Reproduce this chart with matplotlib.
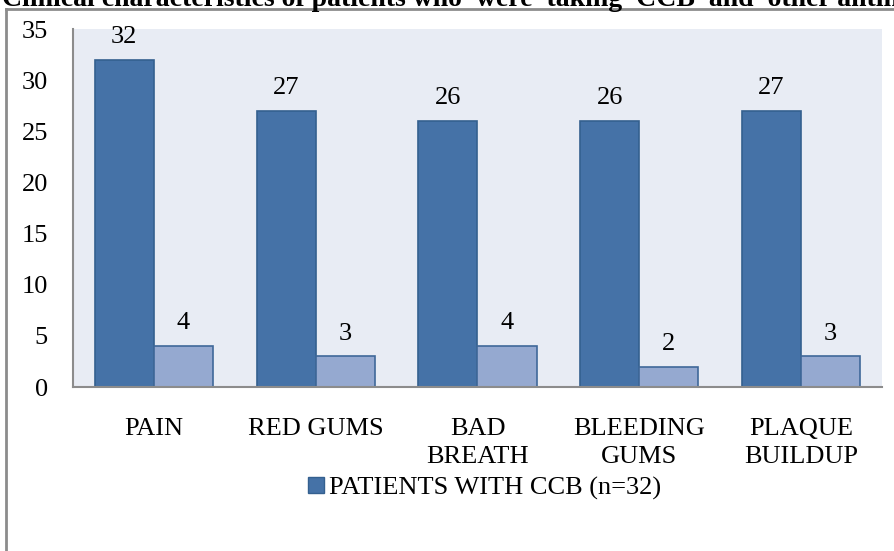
import matplotlib.pyplot as plt
import matplotlib.lines as mlines
import numpy as np

# Symptom categories and patient counts
categories = ["PAIN", "RED GUMS", "BAD\nBREATH", "BLEEDING\nGUMS", "PLAQUE\nBUILDUP"]
with_ccb = [32, 27, 26, 26, 27]
other_drugs = [4, 3, 4, 2, 3]
yticks = [0, 5, 10, 15, 20, 25, 30, 35]

plt.rcParams['font.family'] = ['Liberation Serif', 'DejaVu Serif']

W, H = 895, 551
fig = plt.figure(figsize=(W / 100, H / 100), dpi=100)

# axes box in pixel terms
left, right, top, bottom = 73, 882, 29, 387
ax = fig.add_axes([left / W, 1 - bottom / H, (right - left) / W, (bottom - top) / H])
ax.set_facecolor("#E8ECF4")

x = np.arange(len(categories))
bw = 0.365
dark = ax.bar(x - bw / 2, with_ccb, bw, color="#4572A7", edgecolor="#34608F",
              linewidth=1.2, label="PATIENTS WITH CCB (n=32)")
light = ax.bar(x + bw / 2, other_drugs, bw, color="#95A9D0", edgecolor="#3F6899",
               linewidth=1.2)

for bars, vals in [(dark, with_ccb), (light, other_drugs)]:
    for b, v in zip(bars, vals):
        ax.annotate(str(v), (b.get_x() + b.get_width() / 2, v), xytext=(0, 8.5),
                    textcoords="offset points", ha="center", va="bottom", fontsize=19)

ax.set_xlim(-0.5, len(categories) - 0.5)
ax.set_ylim(0, 35)
ax.set_yticks(yticks)
ax.set_xticks(x)
ax.set_xticklabels(categories, fontsize=19, linespacing=1.38)
ax.tick_params(axis='y', length=0, labelsize=19, pad=18)
ax.tick_params(axis='x', length=0, pad=22)
for s in ["top", "right"]:
    ax.spines[s].set_visible(False)
for s in ["left", "bottom"]:
    ax.spines[s].set_color("#8C8C8C")
    ax.spines[s].set_linewidth(1.5)

handle = mlines.Line2D([], [], marker="s", linestyle="none", markersize=12,
                       markerfacecolor="#4572A7", markeredgecolor="#34608F")
fig.legend([handle], ["PATIENTS WITH CCB (n=32)"], loc="center",
           bbox_to_anchor=(483 / W, 1 - 488 / H), frameon=False, fontsize=19,
           handletextpad=0.1, borderpad=0, handlelength=0.8)

# outer chart frame (left and top edges)
fig.add_artist(mlines.Line2D([6 / W, 6 / W], [0, 1 - 9 / H], color="#8C8C8C", linewidth=2))
fig.add_artist(mlines.Line2D([6 / W, 1], [1 - 9 / H, 1 - 9 / H], color="#8C8C8C", linewidth=2))

fig.text(0.002, 1 - 6 / H, "Clinical characteristics of patients who  were  taking  CCB  and  other antihypertensive drugs",
         fontsize=20, fontweight="bold", va="baseline", ha="left")

fig.savefig("out.png", dpi=100)
